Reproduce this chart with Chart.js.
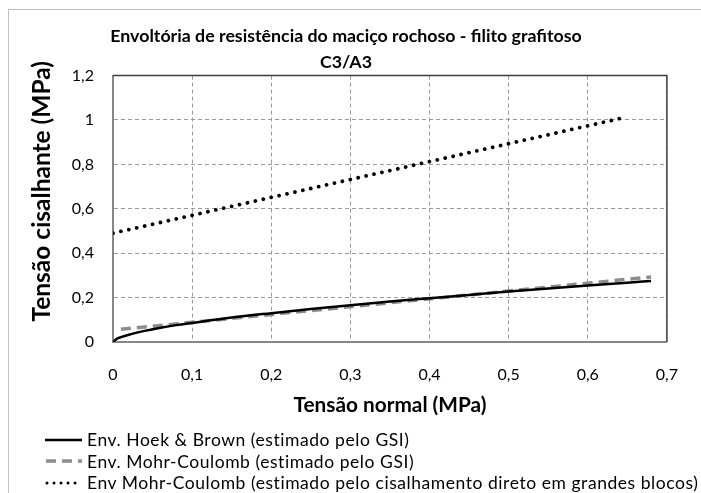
<!DOCTYPE html>
<html>
<head>
<meta charset="utf-8">
<script src="https://cdn.jsdelivr.net/npm/chart.js@4.4.1/dist/chart.umd.min.js"></script>
<style>
  html, body { margin: 0; padding: 0; background: #fff; overflow: hidden; }
  #wrap { position: relative; width: 701px; height: 493px; overflow: hidden; }
  #frame { position: absolute; left: 8px; top: 9px; width: 900px; height: 700px; border: 1px solid #c3c3c3; box-sizing: border-box; pointer-events: none; }
  canvas { position: absolute; left: 0; top: 0; }
  #legend { position: absolute; left: 45px; top: 429px; font-family: Lato, "Open Sans", sans-serif; font-size: 17.5px; letter-spacing: 0.55px; color: #000; }
  #legend .row { height: 21.5px; display: flex; align-items: center; white-space: nowrap; }
  #legend svg { margin-right: 5px; flex: none; }
</style>
</head>
<body>
<div id="wrap">
  <canvas id="c" width="701" height="493"></canvas>
  <div id="frame"></div>
  <div id="legend"></div>
</div>
<script>
// ---- data ----
const titleLines = ["Envoltória de resistência do maciço rochoso - filito grafitoso", "C3/A3"];
const xAxisTitle = "Tensão normal (MPa)";
const yAxisTitle = "Tensão cisalhante (MPa)";

const seriesNames = [
  "Env. Hoek & Brown (estimado pelo GSI)",
  "Env. Mohr-Coulomb (estimado pelo GSI)",
  "Env Mohr-Coulomb (estimado pelo cisalhamento direto em grandes blocos)"
];

const sigmaHB = [0, 0.005, 0.01, 0.02, 0.04, 0.06, 0.08, 0.1, 0.15, 0.2, 0.25, 0.3, 0.35, 0.4, 0.45, 0.5, 0.55, 0.6, 0.65, 0.68];
const tauHB   = [0, 0.015, 0.022, 0.033, 0.05, 0.064, 0.076, 0.086, 0.11, 0.13, 0.149, 0.166, 0.182, 0.197, 0.212, 0.227, 0.241, 0.254, 0.267, 0.275];

const sigmaMCgsi = [0.01, 0.68];
const tauMCgsi   = [0.057, 0.293];

const sigmaMCcd = [0, 0.645];
const tauMCcd   = [0.49, 1.01];

const xMin = 0, xMax = 0.7, xStep = 0.1;
const yMin = 0, yMax = 1.2, yStep = 0.2;

// ---- build chart ----
const toPts = (xs, ys) => xs.map((x, i) => ({x: x, y: ys[i]}));
const fmt = v => String(Math.round(v * 10) / 10).replace('.', ',');
const FONT = 'Lato, "Open Sans", sans-serif';

const frameLines = {
  id: 'frameLines',
  afterDatasetsDraw(chart) {
    const {ctx, chartArea: a} = chart;
    ctx.save();
    ctx.strokeStyle = '#3c3c3c';
    ctx.lineWidth = 1.5;
    ctx.beginPath();
    ctx.moveTo(a.left, a.top);
    ctx.lineTo(a.right, a.top);
    ctx.lineTo(a.right, a.bottom);
    ctx.stroke();
    ctx.restore();
  }
};

const legendStyles = [
  {stroke: '#000000', width: 2.5, dash: '', cap: 'butt'},
  {stroke: '#8c8c8c', width: 3.5, dash: '10 6', cap: 'butt'},
  {stroke: '#000000', width: 3, dash: '0.01 7', cap: 'round'}
];

const chart = new Chart(document.getElementById('c'), {
  type: 'line',
  data: {
    datasets: [
      {
        label: seriesNames[0],
        data: toPts(sigmaHB, tauHB),
        borderColor: '#000000',
        borderWidth: 2.5,
        pointRadius: 0,
        cubicInterpolationMode: 'monotone',
        fill: false
      },
      {
        label: seriesNames[1],
        data: toPts(sigmaMCgsi, tauMCgsi),
        borderColor: '#8c8c8c',
        borderWidth: 3.5,
        borderDash: [10, 6],
        pointRadius: 0,
        fill: false
      },
      {
        label: seriesNames[2],
        data: toPts(sigmaMCcd, tauMCcd),
        borderColor: '#000000',
        borderWidth: 3.8,
        borderDash: [0.01, 8.1],
        borderCapStyle: 'round',
        pointRadius: 0,
        fill: false
      }
    ]
  },
  options: {
    responsive: false,
    animation: false,
    devicePixelRatio: 1,
    layout: { padding: { left: 20, right: 29, top: 0, bottom: 75 } },
    plugins: {
      legend: { display: false },
      tooltip: { enabled: false },
      title: {
        display: true,
        text: titleLines,
        color: '#000',
        font: { family: FONT, size: 17.8, weight: 'bold', lineHeight: 1.42 },
        padding: { top: 24, bottom: 1 }
      }
    },
    scales: {
      x: {
        type: 'linear',
        min: xMin, max: xMax,
        afterFit(s) { s.height = 76; },
        ticks: { stepSize: xStep, padding: 23, color: '#000', font: { family: FONT, size: 16 }, callback: v => fmt(v), maxRotation: 0 },
        grid: { color: '#9a9a9a', lineWidth: 1, drawTicks: false },
        border: { display: true, color: '#878787', width: 2, dash: [4, 3] },
        title: { display: true, text: xAxisTitle, color: '#000', font: { family: FONT, size: 20.8, weight: 'bold', lineHeight: 1.2 }, padding: 0 }
      },
      y: {
        type: 'linear',
        min: yMin, max: yMax,
        afterFit(s) { s.width = 93; },
        ticks: { stepSize: yStep, padding: 19, color: '#000', font: { family: FONT, size: 16 }, callback: v => fmt(v) },
        grid: { color: '#9a9a9a', lineWidth: 1, drawTicks: false },
        border: { display: true, color: '#878787', width: 2, dash: [4, 3] },
        title: { display: true, text: '\u00a0\u00a0\u00a0\u00a0\u00a0\u00a0' + yAxisTitle, color: '#000', font: { family: FONT, size: 24.5, weight: 'bold', lineHeight: 1.2 }, padding: { top: 7, bottom: 0 } }
      }
    }
  },
  plugins: [frameLines]
});

// ---- HTML legend built from the chart's datasets ----
const legendEl = document.getElementById('legend');
chart.data.datasets.forEach((ds, i) => {
  const st = legendStyles[i];
  const row = document.createElement('div');
  row.className = 'row';
  const svgNS = 'http://www.w3.org/2000/svg';
  const svg = document.createElementNS(svgNS, 'svg');
  svg.setAttribute('width', '37');
  svg.setAttribute('height', '8');
  const ln = document.createElementNS(svgNS, 'line');
  ln.setAttribute('x1', st.cap === 'round' ? '2' : (st.dash ? '1' : '0'));
  ln.setAttribute('x2', '37');
  ln.setAttribute('y1', '4');
  ln.setAttribute('y2', '4');
  ln.setAttribute('stroke', st.stroke);
  ln.setAttribute('stroke-width', st.width);
  ln.setAttribute('stroke-linecap', st.cap);
  if (st.dash) ln.setAttribute('stroke-dasharray', st.dash);
  svg.appendChild(ln);
  const txt = document.createElement('span');
  txt.textContent = ds.label;
  row.appendChild(svg);
  row.appendChild(txt);
  legendEl.appendChild(row);
});
</script>
</body>
</html>
